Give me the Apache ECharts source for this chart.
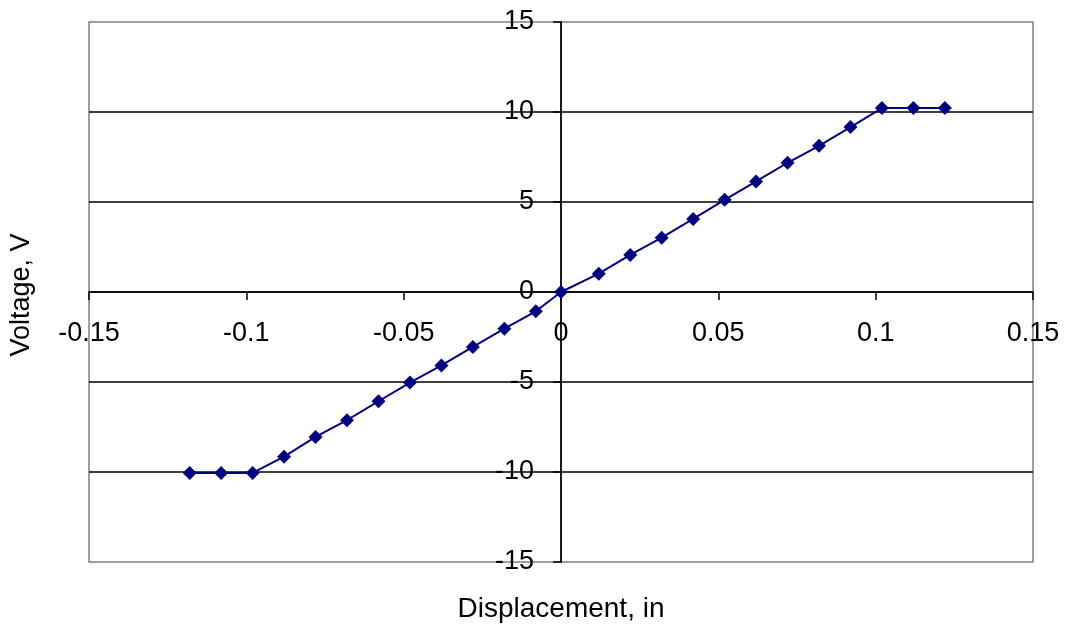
<!DOCTYPE html>
<html>
<head>
<meta charset="utf-8">
<script src="https://cdn.jsdelivr.net/npm/echarts@6/dist/echarts.min.js"></script>
<style>
html,body{margin:0;padding:0;background:#fff;}
#chart{width:1065px;height:627px;}
</style>
</head>
<body>
<div id="chart"></div>
<script>
var displacement = [-0.118,-0.108,-0.098,-0.088,-0.078,-0.068,-0.058,-0.048,-0.038,-0.028,-0.018,-0.008,0,0.012,0.022,0.032,0.042,0.052,0.062,0.072,0.082,0.092,0.102,0.112,0.122];
var voltage = [-10.05,-10.05,-10.05,-9.15,-8.05,-7.12,-6.07,-5.03,-4.08,-3.05,-2.04,-1.07,0,1.02,2.06,3.02,4.06,5.12,6.14,7.18,8.12,9.16,10.22,10.22,10.22];
var xTitle = 'Displacement, in';
var yTitle = 'Voltage, V';

var points = displacement.map(function(x, i){ return [x, voltage[i]]; });
var FONT = 'Liberation Sans';
var GL = 89, GR = 32, GT = 22, GB = 65;
var W = 1065, H = 627;
var gw = W - GL - GR, gh = H - GT - GB;
var chart = echarts.init(document.getElementById('chart'), null, {renderer:'canvas'});
chart.setOption({
  animation: false,
  backgroundColor: '#fff',
  grid: {left: GL, right: GR, top: GT, bottom: GB, show: true, borderColor: '#808080', borderWidth: 1.5, backgroundColor: 'transparent'},
  xAxis: {
    type: 'value', min: -0.15, max: 0.15, interval: 0.05,
    position: 'bottom', offset: -gh / 2,
    axisLine: {onZero: false, lineStyle: {color: '#000', width: 1.5}},
    axisTick: {show: true, inside: false, length: 8, lineStyle: {color: '#000', width: 1.5}},
    axisLabel: {fontFamily: FONT, fontSize: 27, color: '#000', margin: 28,
      formatter: function(v){ return String(Math.round(v*100)/100); }},
    splitLine: {show: false}
  },
  yAxis: {
    type: 'value', min: -15, max: 15, interval: 5,
    position: 'left', offset: -gw / 2,
    axisLine: {onZero: false, lineStyle: {color: '#000', width: 1.8}},
    axisTick: {show: true, inside: false, length: 8, lineStyle: {color: '#000', width: 1.5}},
    axisLabel: {fontFamily: FONT, fontSize: 27, color: '#000', margin: 27},
    splitLine: {show: true, showMinLine: false, showMaxLine: false, lineStyle: {color: '#000', width: 1.5}}
  },
  graphic: [
    {type: 'text', x: 22, y: 295, rotation: Math.PI/2,
      style: {text: yTitle, fontSize: 27, fontFamily: FONT, fill: '#000', textAlign: 'center', textVerticalAlign: 'middle'}},
    {type: 'text', x: 561, y: 609,
      style: {text: xTitle, fontSize: 28, fontFamily: FONT, fill: '#000', textAlign: 'center', textVerticalAlign: 'middle'}}
  ],
  series: [{
    type: 'line', data: points,
    symbol: 'diamond', symbolSize: 14,
    lineStyle: {color: '#000080', width: 2},
    itemStyle: {color: '#000080'},
    z: 5
  }]
});
</script>
</body>
</html>
